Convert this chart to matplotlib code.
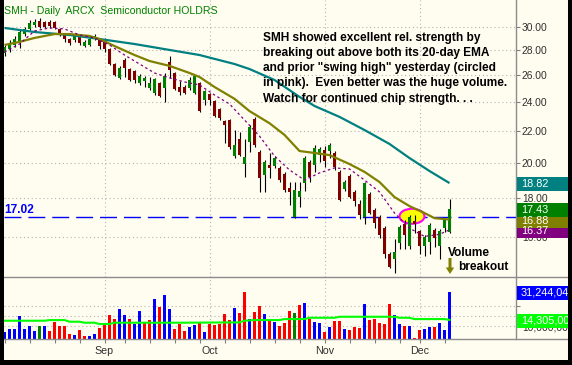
import matplotlib
matplotlib.use("Agg")
import matplotlib.pyplot as plt
import matplotlib.transforms as mtransforms
from matplotlib.patches import Rectangle, Ellipse, Polygon
from matplotlib.lines import Line2D
from matplotlib.ticker import NullLocator, FixedLocator
import numpy as np
import pandas as pd

plt.rcParams['font.family'] = ['Liberation Sans', 'DejaVu Sans']

# ---------------- data ----------------
holidays = ['2008-09-01', '2008-11-27']
dates = pd.bdate_range('2008-08-04', '2008-12-09')
dates = dates[~dates.isin(pd.to_datetime(holidays))]

opens = [27.75, 28.08, 28.42, 28.59, 29.36, 29.81, 30.17, 30.53, 30.44, 30.44,
         30.44, 29.81, 29.36, 28.93, 28.85, 29.10, 28.33, 28.42, 28.93, 28.85,
         28.85, 28.08, 26.85, 25.76, 27.18, 26.45, 26.30, 25.37, 25.52, 25.00,
         24.63, 25.37, 25.00, 27.01, 26.14, 25.07, 25.07, 25.00, 24.63, 25.37,
         24.13, 24.55, 24.04, 23.47, 22.65, 22.72, 20.40, 21.47, 19.92, 21.28,
         22.79, 20.65, 19.28, 19.86, 19.80, 19.69, 19.34, 18.55, 17.00, 18.05,
         18.82, 20.04, 19.86, 20.46, 20.78, 20.71, 20.59, 19.46, 18.49, 19.22,
         18.33, 17.68, 17.00, 18.22, 17.36, 17.00, 16.45, 15.25, 15.02, 15.72,
         16.65, 15.58, 16.80, 16.30, 15.58, 15.77, 16.35, 15.58, 16.45, 16.25]
highs = [28.42, 28.85, 29.19, 29.72, 30.00, 30.62, 30.71, 30.80, 30.53, 30.62,
         30.53, 29.90, 29.45, 29.02, 29.36, 29.19, 28.85, 29.02, 29.36, 29.02,
         29.02, 28.17, 26.93, 26.70, 27.34, 26.53, 26.38, 26.07, 25.90, 25.83,
         25.76, 25.45, 26.14, 27.50, 26.22, 25.52, 25.22, 25.83, 26.00, 25.45,
         24.85, 24.63, 24.13, 23.54, 22.72, 22.79, 22.05, 21.91, 21.47, 22.38,
         22.93, 20.78, 20.16, 20.59, 20.40, 19.80, 19.46, 18.88, 18.88, 18.88,
         20.40, 20.16, 21.09, 20.96, 21.03, 21.21, 20.71, 19.57, 18.99, 19.34,
         18.44, 17.89, 18.88, 18.33, 17.47, 17.10, 16.55, 15.30, 15.91, 16.60,
         16.85, 17.10, 17.10, 16.35, 16.10, 16.70, 16.45, 16.40, 16.95, 17.95]
lows = [27.50, 27.83, 28.25, 28.17, 29.19, 29.72, 30.00, 29.90, 29.90, 29.90,
        29.81, 29.19, 28.68, 28.42, 28.68, 28.42, 28.25, 28.33, 28.85, 28.08,
        27.83, 26.78, 25.90, 25.68, 25.83, 25.52, 25.37, 25.22, 25.07, 24.85,
        24.48, 24.33, 23.97, 25.76, 24.85, 24.48, 24.55, 24.85, 24.55, 23.26,
        23.76, 23.76, 22.92, 22.72, 21.21, 20.84, 20.28, 20.40, 19.17, 20.65,
        20.96, 18.33, 18.33, 19.11, 19.69, 18.88, 18.33, 17.63, 16.95, 17.52,
        18.38, 18.88, 19.46, 20.04, 19.75, 20.28, 19.57, 17.84, 18.38, 18.00,
        17.57, 16.90, 16.65, 17.16, 16.45, 15.96, 15.07, 14.62, 14.40, 15.48,
        15.48, 15.48, 16.20, 15.25, 15.16, 15.25, 15.53, 15.02, 16.25, 16.20]
closes = [28.25, 28.59, 28.93, 29.54, 29.81, 30.35, 30.44, 30.00, 30.00, 30.08,
          29.90, 29.36, 28.93, 28.59, 29.19, 28.59, 28.68, 28.93, 29.19, 28.33,
          28.08, 26.85, 26.00, 26.53, 26.53, 25.60, 25.60, 25.90, 25.76, 25.37,
          25.68, 24.41, 25.90, 26.38, 24.92, 24.70, 24.63, 25.60, 25.90, 23.33,
          24.78, 24.13, 22.99, 22.86, 22.38, 20.96, 21.09, 20.46, 20.34, 22.25,
          21.09, 19.11, 20.04, 19.69, 20.28, 18.99, 18.44, 18.33, 18.44, 18.38,
          20.28, 19.17, 20.90, 20.84, 20.10, 21.09, 19.75, 17.89, 18.88, 18.05,
          17.84, 17.10, 18.82, 17.21, 16.70, 16.10, 15.25, 14.66, 15.30, 16.50,
          16.10, 17.00, 16.65, 15.58, 16.00, 16.60, 15.96, 16.30, 16.85, 17.43]

# volume in millions of shares, and direction code of each volume bar
volume = [7.2, 8.8, 8.8, 16.7, 8.8, 10.6, 7.8, 10.6, 10.6, 7.8,
          13.2, 10.6, 10.6, 5.8, 5.2, 8.2, 4.5, 4.5, 5.8, 9.6,
          11.8, 17.3, 14.8, 20.9, 17.3, 14.8, 11.8, 19.7, 12.2, 14.2,
          27.0, 22.3, 29.4, 20.9, 8.8, 11.8, 7.8, 9.8, 11.2, 13.2,
          7.0, 11.8, 11.2, 11.8, 17.9, 14.2, 21.5, 18.7, 31.4, 14.8,
          19.3, 22.7, 17.9, 14.2, 13.2, 10.6, 12.2, 19.7, 18.7, 23.3,
          24.7, 14.8, 13.2, 12.2, 7.2, 10.2, 13.8, 13.8, 8.8, 8.2,
          10.2, 9.6, 23.9, 14.2, 14.8, 12.6, 11.8, 23.9, 17.3, 11.8,
          10.6, 10.6, 3.3, 8.2, 8.8, 9.8, 10.2, 12.2, 8.2, 31.244048]
vol_dir = list("uuuuuuufud" "ddddudduud" "ddduuduudd" "uduuddduud" "uddddduddu"
               "ddududddfd" "uduududdud" "dduddddduu" "dudduuduuu")

# moving averages: (bar index, value)
sma50_idx = [0, 6, 13, 19, 26, 33, 39, 46, 49, 54, 59, 62, 67, 72, 77, 81, 85, 89]
sma50_val = [29.90, 29.54, 29.28, 28.93, 28.50, 28.00, 27.58, 26.85, 26.45, 25.60,
             24.34, 23.69, 22.93, 22.05, 21.15, 20.28, 19.51, 18.82]
ema20_idx = [0, 3, 6, 10, 13, 17, 19, 22, 26, 29, 33, 37, 39, 42, 46, 49, 53, 56,
             59, 62, 65, 69, 72, 75, 78, 81, 84, 86, 89]
ema20_val = [28.42, 28.68, 29.02, 29.36, 29.36, 29.19, 28.93, 28.33, 27.58, 27.09,
             26.70, 26.14, 25.83, 25.07, 24.20, 23.33, 22.50, 21.73, 20.71, 20.59,
             20.46, 19.92, 19.46, 18.88, 18.05, 17.57, 17.21, 16.95, 16.88]
ma10_idx = [0, 3, 6, 9, 12, 15, 18, 21, 24, 27, 30, 33, 36, 39, 42, 45, 48, 51, 54,
            57, 60, 63, 66, 69, 72, 75, 78, 81, 84, 87, 89]
ma10_val = [27.83, 28.50, 29.63, 29.90, 29.81, 29.28, 29.02, 28.42, 27.58, 26.85,
            26.14, 25.76, 25.45, 25.22, 24.48, 23.83, 22.72, 21.65, 20.40, 19.57,
            18.99, 19.40, 19.69, 19.63, 18.99, 18.33, 17.21, 16.45, 16.05, 16.15, 16.37]
volma_idx = [0, 8, 9, 12, 13, 15, 16, 18, 19, 21, 22, 35, 47, 48, 50, 55, 56, 60,
             61, 66, 67, 78, 79, 81, 82, 88, 89]
volma_val = [13.8, 13.8, 14.2, 14.2, 13.2, 13.2, 12.6, 12.6, 11.8, 11.8, 12.6, 12.6,
             12.8, 13.8, 14.2, 14.2, 14.8, 14.8, 15.6, 15.6, 16.2, 16.2, 15.6, 15.6,
             14.8, 14.8, 14.305]

level = 17.02
price_ticks = [16, 18, 20, 22, 24, 26, 28, 30]
vol_grid = [10.6, 16.7, 22.7]

# ---------------- figure ----------------
W, H = 572, 365
CREAM = '#FFFCF0'
fig = plt.figure(figsize=(W / 100, H / 100), dpi=100, facecolor=CREAM)


def fx(px):
    return px / W


def fy(py):
    return 1 - py / H


LX, RX = 4, 516
ax = fig.add_axes([fx(LX), fy(277), (RX - LX) / W, 277 / H])
axv = fig.add_axes([fx(LX), fy(339), (RX - LX) / W, (339 - 277) / H])
for a in (ax, axv):
    a.set_facecolor(CREAM)
    for s in a.spines.values():
        s.set_visible(False)

x = np.arange(len(closes))
o = np.array(opens); c = np.array(closes)
hi = np.array(highs); lo = np.array(lows)
xmin, xmax = -0.1, 102.3

# price panel
ax.set_yscale('log')
ax.set_xlim(xmin, xmax)
ax.set_ylim(14.22, 32.5)
ax.yaxis.tick_right()
ax.yaxis.set_major_locator(FixedLocator(price_ticks))
ax.yaxis.set_minor_locator(NullLocator())
ax.set_yticklabels([f"{t:.2f}" for t in price_ticks])
ax.tick_params(axis='y', direction='out', length=3, width=0.8, color='#808080',
               labelsize=7.4, labelcolor='#303030', pad=1.2)
ax.set_xticks([])

month_start = [i for i in range(1, len(dates)) if dates[i].month != dates[i - 1].month]
week_start = [0] + [i for i in range(1, len(dates)) if dates[i].weekday() < dates[i - 1].weekday()]

grid_kw = dict(color='#b4b4b4', lw=0.8, linestyle=(0, (1, 2.5)), zorder=1)
for t in price_ticks:
    ax.axhline(t, **grid_kw)
for m in month_start:
    ax.axvline(m, **grid_kw)
    axv.axvline(m, **grid_kw)

ax.axhline(level, color='#0000FF', lw=1.0, linestyle=(0, (12.2, 5.0)), zorder=2)
ax.annotate(f"{level:.2f}", xy=(0, level), xycoords=('axes fraction', 'data'),
            xytext=(0.3, 2.6), textcoords='offset points', ha='left', va='baseline',
            color='#0000FF', fontsize=8.6, fontweight='bold')

# circled swing high
cx, cy = ax.transData.transform((81.5, level))
ell = Ellipse((0, 0), 25, 15, facecolor='#FFFF00', edgecolor='#FF00FF', lw=1.5,
              transform=mtransforms.Affine2D().translate(cx, cy + 0.5), zorder=2.5,
              clip_on=False)
ax.add_patch(ell)

# candles
ax.vlines(x, lo, hi, colors='black', lw=0.8, zorder=3)
body_col = np.where(c >= o, '#008000', '#800000')
ax.bar(x, np.maximum(np.abs(c - o), 0.02), bottom=np.minimum(o, c), width=0.64,
       color=body_col, linewidth=0, zorder=4)

# moving averages
ax.plot(sma50_idx, sma50_val, color='#008080', lw=1.6, zorder=5, solid_capstyle='butt')
ax.plot(ema20_idx, ema20_val, color='#808000', lw=1.6, zorder=5, solid_capstyle='butt')
ax.plot(ma10_idx, ma10_val, color='#800080', lw=0.9, linestyle=(0, (2, 2.2)), zorder=5)

# volume panel
axv.set_xlim(xmin, xmax)
axv.set_ylim(2.73, 40.3)
vcols = {'u': '#0000FF', 'd': '#FF0000', 'f': '#008000'}
axv.bar(x, volume, width=0.46, color=[vcols[d] for d in vol_dir], linewidth=0, zorder=3)
axv.plot(volma_idx, volma_val, color='#00FF00', lw=1.5, zorder=4)
for g in vol_grid:
    axv.axhline(g, **grid_kw)
axv.yaxis.tick_right()
axv.yaxis.set_major_locator(FixedLocator([vol_grid[0], vol_grid[2]]))
axv.yaxis.set_minor_locator(NullLocator())
axv.set_yticklabels(['10,000,000', ''])
axv.tick_params(axis='y', direction='out', length=3, width=0.8, color='#808080',
                labelsize=7.4, labelcolor='#303030', pad=1.2)
# weekly ticks (unlabelled) and month names at the first bar of each month
axv.xaxis.remove_overlapping_locs = False
axv.xaxis.set_major_locator(FixedLocator(week_start))
axv.xaxis.set_major_formatter(plt.NullFormatter())
axv.set_xticks(month_start, [dates[i].strftime('%b') for i in month_start], minor=True)
axv.tick_params(axis='x', which='major', direction='out', length=2.9, width=0.8,
                color='#808080')
axv.tick_params(axis='x', which='minor', length=0, labelsize=7.7, labelcolor='#303030',
                pad=5.0)

# frame lines
frame = dict(color='#8c8c8c', lw=1.0, transform=fig.transFigure, zorder=20)
fig.add_artist(Line2D([fx(RX), fx(RX)], [fy(0), fy(339)], **frame))
fig.add_artist(Line2D([fx(LX), fx(572)], [fy(277), fy(277)], **frame))
fig.add_artist(Line2D([fx(LX), fx(572)], [fy(339), fy(339)], **frame))


# value boxes on the right axis
def value_box(axis, value, color, text):
    _, ydisp = axis.transData.transform((0, value))
    ypx = H - ydisp + 1
    fig.add_artist(Rectangle((fx(517), fy(ypx + 7)), fx(60), 14 / H, transform=fig.transFigure,
                             facecolor=color, edgecolor='none', zorder=30))
    fig.text(fx(521), fy(ypx), text, color='white', fontsize=7.8, va='center', ha='left',
             zorder=31)


value_box(ax, ma10_val[-1], '#800080', f"{ma10_val[-1]:.2f}")
value_box(ax, ema20_val[-1], '#808000', f"{ema20_val[-1]:.2f}")
value_box(ax, closes[-1], '#008000', f"{closes[-1]:.2f}")
value_box(ax, sma50_val[-1], '#008080', f"{sma50_val[-1]:.2f}")
value_box(axv, volma_val[-1], '#00FF00', f"{volma_val[-1] * 1e6:,.0f}")
value_box(axv, volume[-1], '#0000FF', f"{volume[-1] * 1e6:,.0f}")

# title & commentary
fig.text(fx(4), fy(13.5), 'SMH - Daily  ARCX  Semiconductor HOLDRS', color='#008000',
         fontsize=7.6, va='baseline', ha='left')
comment = ['SMH showed excellent rel. strength by',
           'breaking out above both its 20-day EMA',
           'and prior "swing high" yesterday (circled',
           'in pink).  Even better was the huge volume.',
           'Watch for continued chip strength. . .']
for k, line in enumerate(comment):
    fig.text(fx(263), fy(40.7 + 15.25 * k), line, fontsize=8.6, fontweight='bold',
             color='black', va='baseline', ha='left')
fig.text(fx(448), fy(256.5), 'Volume', fontsize=8.6, fontweight='bold', va='baseline')
fig.text(fx(458), fy(269.8), 'breakout', fontsize=8.6, fontweight='bold', va='baseline')
arrow_px = [(448.5, 258), (451.5, 258), (451.5, 267.5), (454.2, 267.5), (450, 274),
            (445.8, 267.5), (448.5, 267.5)]
fig.add_artist(Polygon([(fx(px), fy(py)) for px, py in arrow_px], closed=True,
                       transform=fig.transFigure, facecolor='#808000', edgecolor='none',
                       zorder=25))

# black border
for rect in [(0, 0, 4, 365), (568, 0, 4, 365), (0, 360, 572, 5)]:
    px0, py0, w, h = rect
    fig.add_artist(Rectangle((fx(px0), fy(py0 + h)), w / W, h / H, transform=fig.transFigure,
                             facecolor='black', edgecolor='none', zorder=100))

fig.savefig('out.png', dpi=100, facecolor=CREAM)
